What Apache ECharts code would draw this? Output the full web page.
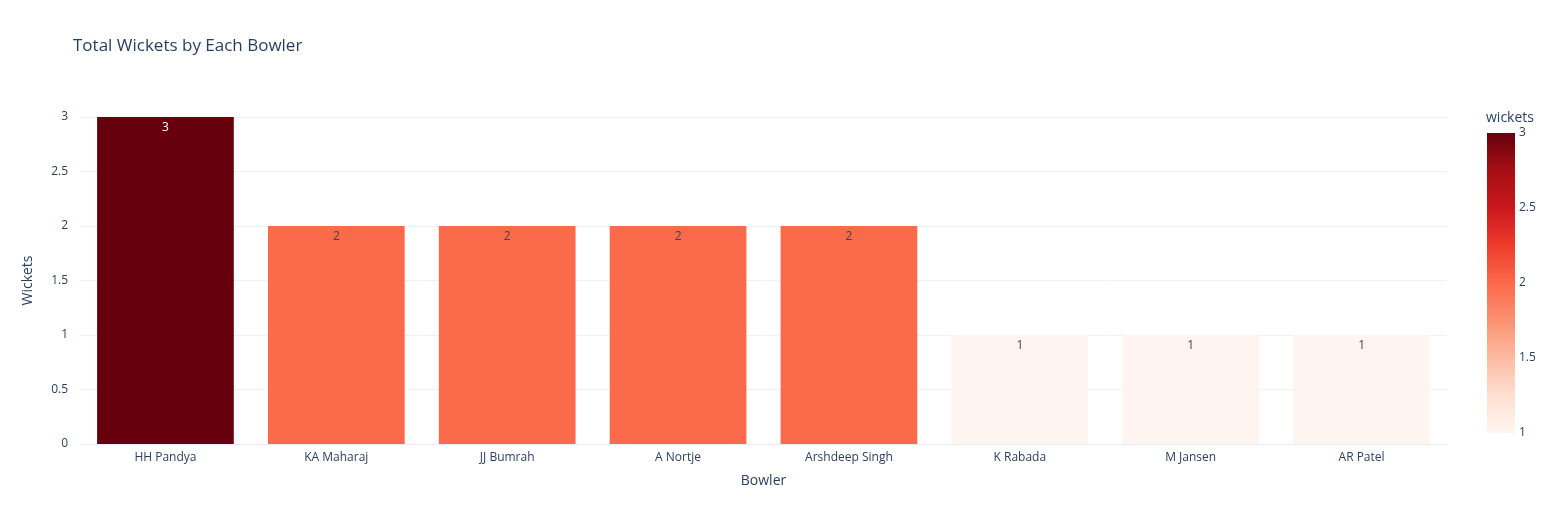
<!DOCTYPE html>
<html>
<head>
<meta charset="utf-8">
<script src="https://cdn.jsdelivr.net/npm/echarts@6/dist/echarts.min.js"></script>
<style>html,body{margin:0;padding:0;background:#fff}#main{width:1561px;height:525px}</style>
</head>
<body>
<div id="main"></div>
<script>
var bowlers = ['HH Pandya', 'KA Maharaj', 'JJ Bumrah', 'A Nortje', 'Arshdeep Singh', 'K Rabada', 'M Jansen', 'AR Patel'];
var wickets = [3, 2, 2, 2, 2, 1, 1, 1];
var colorTicks = ['3', '2.5', '2', '1.5', '1'];
var reds = ['#fff5f0', '#fee0d2', '#fcbba1', '#fc9272', '#fb6a4a', '#ef3b2c', '#cb181d', '#a50f15', '#67000d'];

var chart = echarts.init(document.getElementById('main'));
var font = 'Open Sans, Verdana, Arial, sans-serif';
var txt = '#2a3f5f';

// colorbar built by hand so it can carry plotly-style ticks
var barTop = 133, barH = 300, barLeft = 1487, barW = 28;
var cb = [{
	type: 'rect',
	shape: { x: barLeft, y: barTop, width: barW, height: barH },
	style: {
		fill: new echarts.graphic.LinearGradient(0, 1, 0, 0, reds.map(function (c, i) {
			return { offset: i / (reds.length - 1), color: c };
		}))
	}
}, {
	type: 'text', left: 1486, top: 111,
	style: { text: 'wickets', fill: txt, font: '14px ' + font }
}];
colorTicks.forEach(function (t, i) {
	cb.push({
		type: 'text', x: barLeft + barW + 4, y: barTop + i * barH / (colorTicks.length - 1),
		style: { text: t, fill: txt, font: '12px ' + font, verticalAlign: 'middle' }
	});
});

chart.setOption({
	textStyle: { fontFamily: font },
	title: {
		text: 'Total Wickets by Each Bowler', left: 68, top: 33,
		textStyle: { fontSize: 17, fontWeight: 'normal', color: txt }
	},
	grid: { left: 80, right: 114, top: 117, bottom: 81 },
	visualMap: { show: false, min: 1, max: 3, dimension: 1, inRange: { color: reds } },
	xAxis: {
		type: 'category', data: bowlers,
		name: 'Bowler', nameLocation: 'middle', nameGap: 30,
		nameTextStyle: { color: txt, fontSize: 14 },
		axisLine: { lineStyle: { color: '#e5ecf6' } },
		axisTick: { show: false },
		axisLabel: { color: txt, fontSize: 12 }
	},
	yAxis: {
		type: 'value', min: 0, max: 3, interval: 0.5,
		name: 'Wickets', nameLocation: 'middle', nameGap: 45,
		nameTextStyle: { color: txt, fontSize: 14 },
		axisLabel: { color: txt, fontSize: 12, margin: 12 },
		splitLine: { lineStyle: { color: '#eef1f7' } }
	},
	series: [{
		type: 'bar', data: wickets, barCategoryGap: '20%',
		label: {
			show: true, position: 'insideTop', fontSize: 12,
			color: '#444',
			formatter: function (p) { return p.value; }
		},
		labelLayout: {},
		itemStyle: {}
	}],
	graphic: cb
});
// white label on the darkest bar
var opt = chart.getOption();
opt.series[0].data = wickets.map(function (v) {
	return v === 3 ? { value: v, label: { color: '#fff' } } : v;
});
chart.setOption({ series: opt.series });
</script>
</body>
</html>
